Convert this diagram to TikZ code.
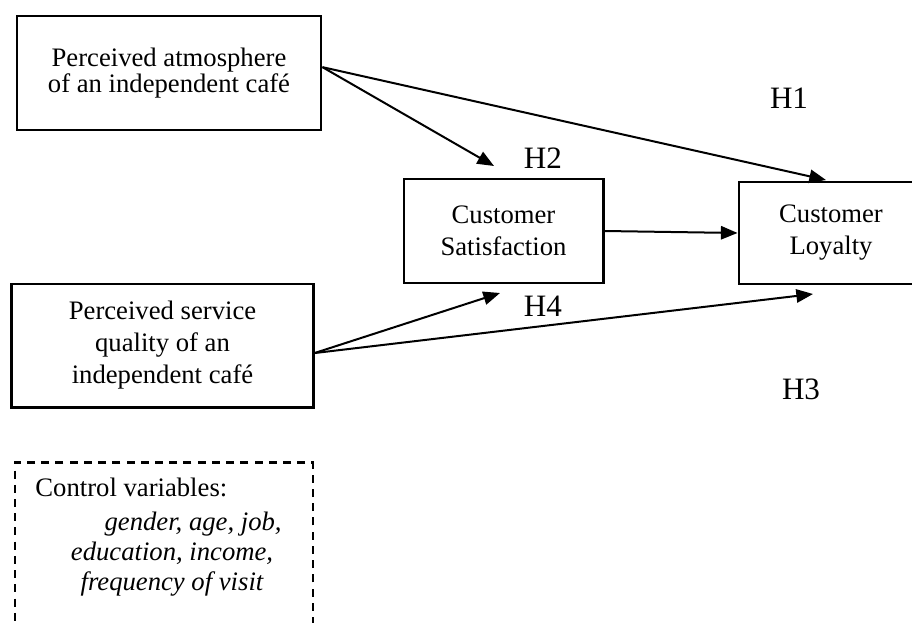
\documentclass[tikz,border=0pt]{standalone}
\usepackage{fontspec}
\setmainfont{Liberation Serif}
\usetikzlibrary{calc, positioning, arrows.meta}

\begin{document}
\begin{tikzpicture}[
  x=0.45pt, y=-0.45pt,
  construct/.style={draw, line width=1.3pt, align=center, inner sep=0pt,
    font=\fontsize{12}{14.4}\selectfont},
  hyp/.style={inner sep=0pt, font=\fontsize{14}{16}\selectfont},
  path/.style={->, line width=0.9pt},
  >={Triangle[length=7.5pt, width=6pt]}
]
  \useasboundingbox (0,0) rectangle (912,622);

  % Constructs
  \node[construct, minimum width=136.8pt, minimum height=51.3pt,
    font=\fontsize{12}{11.8}\selectfont] (atmos) at (169,73)
    {Perceived atmosphere\\of an independent café};
  \node[construct, minimum width=135.5pt, minimum height=55.4pt] (service) at (162.5,345.5)
    {Perceived service\\quality of an\\independent café};
  \node[construct, minimum width=89.6pt, minimum height=46.8pt] (satis) at (503.5,231)
    {Customer\\Satisfaction};
  \node[construct, minimum width=82.8pt, minimum height=45.9pt] (loyal) at (831,233)
    {Customer\\Loyalty};

  % Control variables box (runs off the bottom)
  \node[draw, line width=1.3pt, dash pattern=on 3.6pt off 2.8pt,
    minimum width=134.1pt, minimum height=80pt, inner sep=0pt] (controls) at (164,551) {};
  \node[anchor=base west, inner sep=0pt, font=\fontsize{12}{14.4}\selectfont] (ctrltitle) at (35,496.7)
    {Control variables:};
  \node[align=center, inner sep=0pt, font=\fontsize{12}{13.6}\selectfont\itshape] (ctrllist) at (172,554)
    {\hspace*{19pt}gender, age, job,\\education, income,\\frequency of visit};

  % Arrow ends
  \coordinate (h1tip) at (826,180);
  \coordinate (h2tip) at (494,166);
  \coordinate (h4tip) at (500,293);
  \coordinate (h3tip) at (813,294);
  \coordinate (atmosout) at ($(atmos.north east)!0.45!(atmos.south east)$);
  \coordinate (serviceout) at ($(service.north east)!0.56!(service.south east)$);

  % Paths
  \draw[path] (atmosout) -- (h1tip);
  \draw[path] (atmosout) -- (h2tip);
  \draw[path] (serviceout) -- (h4tip);
  \draw[path] (serviceout) -- (h3tip);
  \draw[path] (satis.east) -- (loyal.west);

  % Hypotheses
  \node[hyp] (h1) at (789,98) {H1};
  \node[hyp] (h2) at (543,158) {H2};
  \node[hyp] (h4) at (543,306) {H4};
  \node[hyp] (h3) at (801,389) {H3};
\end{tikzpicture}
\end{document}
